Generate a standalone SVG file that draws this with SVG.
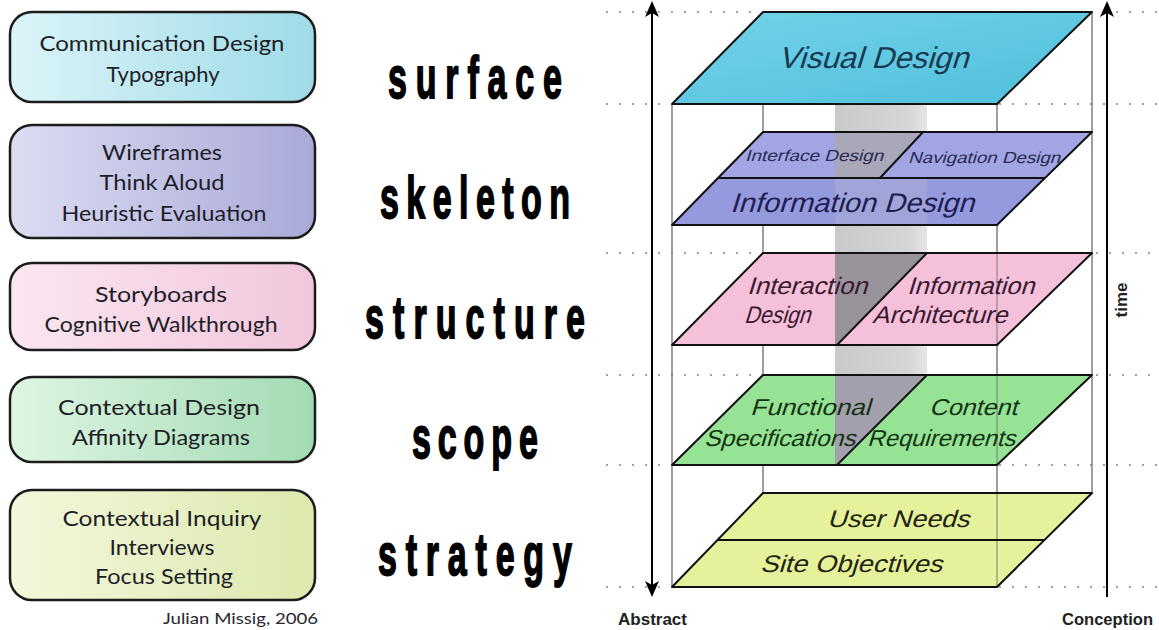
<svg xmlns="http://www.w3.org/2000/svg" width="1159" height="630" viewBox="0 0 1159 630">
<defs>
  <linearGradient id="gB1" x1="0" y1="0" x2="1" y2="0"><stop offset="0" stop-color="#dbf4f8"/><stop offset="1" stop-color="#9fdbe7"/></linearGradient>
  <linearGradient id="gB2" x1="0" y1="0" x2="1" y2="0"><stop offset="0" stop-color="#dcdcf2"/><stop offset="1" stop-color="#a9a9d9"/></linearGradient>
  <linearGradient id="gB3" x1="0" y1="0" x2="1" y2="0"><stop offset="0" stop-color="#fbe6f1"/><stop offset="1" stop-color="#f1c6dc"/></linearGradient>
  <linearGradient id="gB4" x1="0" y1="0" x2="1" y2="0"><stop offset="0" stop-color="#dff5e3"/><stop offset="1" stop-color="#a2dbb3"/></linearGradient>
  <linearGradient id="gB5" x1="0" y1="0" x2="1" y2="0"><stop offset="0" stop-color="#f4f7dc"/><stop offset="1" stop-color="#dce9ad"/></linearGradient>
  <linearGradient id="gVis" x1="0" y1="0" x2="1" y2="1"><stop offset="0" stop-color="#74d3e9"/><stop offset="1" stop-color="#4fbedb"/></linearGradient>
  <linearGradient id="gCol" x1="0" y1="0" x2="1" y2="0"><stop offset="0" stop-color="#c9c9c9"/><stop offset="0.8" stop-color="#d6d6d6"/><stop offset="1" stop-color="#e6e6e6"/></linearGradient>
  <marker id="arr" viewBox="0 0 16 14" refX="8" refY="7" markerWidth="16" markerHeight="14" markerUnits="userSpaceOnUse" orient="auto-start-reverse">
    <path d="M0,0 L16,7 L0,14 L4,7 Z" fill="#000"/>
  </marker>
</defs>
<style>
  .box{stroke:#1c1c1c;stroke-width:2.5}
  .bt{font-family:Lato,"Liberation Sans",sans-serif;font-size:20.5px;fill:#1e1e28;text-anchor:middle}
  .layer{font-family:"Liberation Sans",Arial,sans-serif;font-weight:bold;font-size:40px;fill:#000;stroke:#000;stroke-width:1.2}
  .plane{stroke:#111;stroke-width:2;stroke-linejoin:round}
  .ln{stroke:#111;stroke-width:2;fill:none}
  .pt{font-family:"Liberation Sans",Arial,sans-serif}
  .dot{stroke:#a0a0a0;stroke-width:2;stroke-dasharray:2 11;fill:none}
  .frame{stroke:#777;stroke-width:1.4;fill:none}
  .ax{font-family:"Liberation Sans",Arial,sans-serif;font-weight:bold;font-size:17px;fill:#222}
</style>
<rect width="1159" height="630" fill="#fff"/>

<g id="box-surface">
  <rect class="box" x="10" y="12" width="305" height="90" rx="22" fill="url(#gB1)"/>
  <text class="bt" x="162" y="51" textLength="245" lengthAdjust="spacingAndGlyphs">Communication Design</text>
  <text class="bt" x="163" y="82" textLength="113" lengthAdjust="spacingAndGlyphs">Typography</text>
</g>
<g id="box-skeleton">
  <rect class="box" x="10" y="125" width="305" height="113" rx="22" fill="url(#gB2)"/>
  <text class="bt" x="162" y="160" textLength="120" lengthAdjust="spacingAndGlyphs">Wireframes</text>
  <text class="bt" x="162" y="190" textLength="125" lengthAdjust="spacingAndGlyphs">Think Aloud</text>
  <text class="bt" x="164" y="221" textLength="205" lengthAdjust="spacingAndGlyphs">Heuristic Evaluation</text>
</g>
<g id="box-structure">
  <rect class="box" x="10" y="263" width="305" height="87" rx="22" fill="url(#gB3)"/>
  <text class="bt" x="161" y="302" textLength="132" lengthAdjust="spacingAndGlyphs">Storyboards</text>
  <text class="bt" x="161" y="332" textLength="233" lengthAdjust="spacingAndGlyphs">Cognitive Walkthrough</text>
</g>
<g id="box-scope">
  <rect class="box" x="10" y="377" width="305" height="85" rx="22" fill="url(#gB4)"/>
  <text class="bt" x="159" y="415" textLength="202" lengthAdjust="spacingAndGlyphs">Contextual Design</text>
  <text class="bt" x="161" y="445" textLength="178" lengthAdjust="spacingAndGlyphs">Affinity Diagrams</text>
</g>
<g id="box-strategy">
  <rect class="box" x="10" y="490" width="305" height="110" rx="22" fill="url(#gB5)"/>
  <text class="bt" x="162" y="526" textLength="199" lengthAdjust="spacingAndGlyphs">Contextual Inquiry</text>
  <text class="bt" x="162" y="555" textLength="105" lengthAdjust="spacingAndGlyphs">Interviews</text>
  <text class="bt" x="164" y="584" textLength="138" lengthAdjust="spacingAndGlyphs">Focus Setting</text>
</g>
<g id="credit">
  <text x="318" y="624" font-family="Lato,'Liberation Sans',sans-serif" font-size="16" fill="#26262e" text-anchor="end" textLength="155" lengthAdjust="spacingAndGlyphs">Julian Missig, 2006</text>
</g>

<g id="layer-names">
  <text class="layer" transform="translate(388,98) scale(0.85,1.5)" textLength="204.7" lengthAdjust="spacing">surface</text>
  <text class="layer" transform="translate(380,218) scale(0.85,1.5)" textLength="223.5" lengthAdjust="spacing">skeleton</text>
  <text class="layer" transform="translate(365,338) scale(0.85,1.5)" textLength="258.8" lengthAdjust="spacing">structure</text>
  <text class="layer" transform="translate(412,458) scale(0.85,1.5)" textLength="148" lengthAdjust="spacing">scope</text>
  <text class="layer" transform="translate(378,575) scale(0.85,1.5)" textLength="228" lengthAdjust="spacing">strategy</text>
</g>

<g id="guides">
  <path class="dot" d="M606,12H762 M606,104H670 M606,253H762 M606,375H762 M606,465H670 M606,587H670"/>
  <path class="dot" d="M1116,12H1159 M999,104H1159 M1096,253H1159 M1096,375H1159 M999,465H1159 M999,587H1159"/>
  <rect x="835" y="104" width="92" height="361" fill="url(#gCol)"/>
  <path class="frame" d="M672,104V587 M763,12V493 M997,104V587 M1092,12V493"/>
</g>

<g id="plane-visual">
  <polygon class="plane" points="763,12 1092,12 997,104 672,104" fill="url(#gVis)"/>
  <text class="pt" transform="translate(778,68) skewX(-17)" font-size="30" fill="#173a52" textLength="190" lengthAdjust="spacingAndGlyphs">Visual Design</text>
</g>
<g id="plane-skeleton">
  <polygon points="763,132 1092,132 1045,178 718,178" fill="#a2a5e3"/>
  <polygon points="718,178 1045,178 997,225 672,225" fill="#9599de"/>
  <polygon points="835,132 923,132 880,178 835,178" fill="#a9a8b8"/>
  <rect x="835" y="178" width="92" height="47" fill="#c8c8c8" opacity="0.25"/>
  <polygon class="plane" points="763,132 1092,132 997,225 672,225" fill="none"/>
  <path class="ln" d="M718,178H1045 M923,132L880,178"/>
  <text class="pt" transform="translate(745,161) skewX(-17)" font-size="16" fill="#2a2a55" textLength="138" lengthAdjust="spacingAndGlyphs">Interface Design</text>
  <text class="pt" transform="translate(908,163) skewX(-17)" font-size="16" fill="#2a2a55" textLength="152" lengthAdjust="spacingAndGlyphs">Navigation Design</text>
  <text class="pt" transform="translate(730,212) skewX(-17)" font-size="27" fill="#1e2050" textLength="244" lengthAdjust="spacingAndGlyphs">Information Design</text>
</g>
<g id="plane-structure">
  <polygon points="763,253 1092,253 997,345 672,345" fill="#f5c0da"/>
  <polygon points="835,253 927,253 837,345 835,345" fill="#98939b"/>
  <path d="M997,253V345" stroke="#777" stroke-width="1.2" opacity="0.8"/>
  <polygon class="plane" points="763,253 1092,253 997,345 672,345" fill="none"/>
  <path class="ln" d="M927,253L837,345"/>
  <text class="pt" transform="translate(747,294) skewX(-17)" font-size="24" fill="#3a1a30" textLength="120" lengthAdjust="spacingAndGlyphs">Interaction</text>
  <text class="pt" transform="translate(744,323) skewX(-17)" font-size="24" fill="#3a1a30" textLength="66" lengthAdjust="spacingAndGlyphs">Design</text>
  <text class="pt" transform="translate(907,294) skewX(-17)" font-size="24" fill="#3a1a30" textLength="127" lengthAdjust="spacingAndGlyphs">Information</text>
  <text class="pt" transform="translate(872,323) skewX(-17)" font-size="24" fill="#3a1a30" textLength="135" lengthAdjust="spacingAndGlyphs">Architecture</text>
</g>
<g id="plane-scope">
  <polygon points="763,375 1092,375 997,465 672,465" fill="#96e396"/>
  <polygon points="835,375 927,375 837,465 835,465" fill="#a49fad"/>
  <path d="M997,375V465" stroke="#777" stroke-width="1.2" opacity="0.8"/>
  <polygon class="plane" points="763,375 1092,375 997,465 672,465" fill="none"/>
  <path class="ln" d="M927,375L837,465"/>
  <text class="pt" transform="translate(750,415) skewX(-17)" font-size="23" fill="#143214" textLength="120" lengthAdjust="spacingAndGlyphs">Functional</text>
  <text class="pt" transform="translate(704,446) skewX(-17)" font-size="23" fill="#143214" textLength="151" lengthAdjust="spacingAndGlyphs">Specifications</text>
  <text class="pt" transform="translate(929,415) skewX(-17)" font-size="23" fill="#143214" textLength="88" lengthAdjust="spacingAndGlyphs">Content</text>
  <text class="pt" transform="translate(867,446) skewX(-17)" font-size="23" fill="#143214" textLength="148" lengthAdjust="spacingAndGlyphs">Requirements</text>
</g>
<g id="plane-strategy">
  <polygon points="763,493 1092,493 997,587 672,587" fill="#e5f19b"/>
  <path d="M997,493V587" stroke="#777" stroke-width="1.2" opacity="0.8"/>
  <polygon class="plane" points="763,493 1092,493 997,587 672,587" fill="none"/>
  <path class="ln" d="M717,540H1045"/>
  <text class="pt" transform="translate(827,527) skewX(-17)" font-size="24" fill="#1e2410" textLength="142" lengthAdjust="spacingAndGlyphs">User Needs</text>
  <text class="pt" transform="translate(760,572) skewX(-17)" font-size="24" fill="#1e2410" textLength="182" lengthAdjust="spacingAndGlyphs">Site Objectives</text>
</g>

<g id="connectors">
  <path d="M652,589V9" stroke="#000" stroke-width="2" fill="none" marker-start="url(#arr)" marker-end="url(#arr)"/>
  <path d="M1107,597V9" stroke="#000" stroke-width="2" fill="none" marker-end="url(#arr)"/>
</g>

<g id="axis-labels">
  <text class="ax" x="618" y="625" textLength="69" lengthAdjust="spacingAndGlyphs">Abstract</text>
  <text class="ax" x="1062" y="625" textLength="91" lengthAdjust="spacingAndGlyphs">Conception</text>
  <text class="ax" font-size="16" transform="translate(1127,300) rotate(-90)" text-anchor="middle">time</text>
</g>
</svg>
